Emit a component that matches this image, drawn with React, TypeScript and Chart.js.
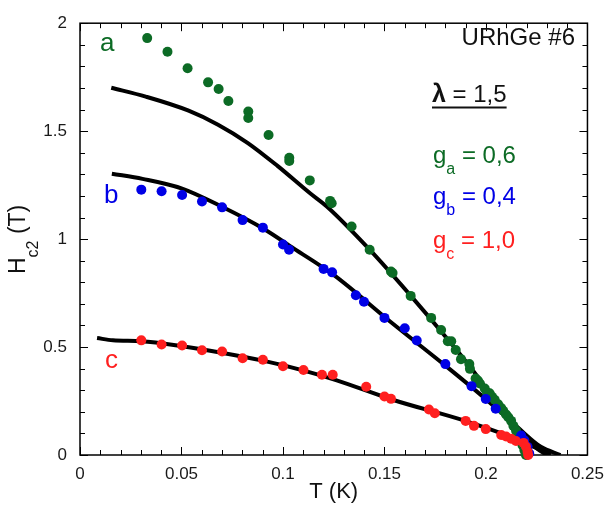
import React, { useEffect, useRef } from 'react';
import { Chart, registerables } from 'chart.js';

Chart.register(...registerables);

// ---------- data ----------
const aT = [0.0331, 0.0431, 0.053, 0.0631, 0.0683, 0.0731, 0.0829, 0.0829, 0.0929, 0.1031, 0.1031, 0.1132, 0.1232, 0.124, 0.1338, 0.1427, 0.1532, 0.154, 0.1629, 0.173, 0.1779, 0.1812, 0.1829, 0.1851, 0.1877, 0.1918, 0.1921, 0.1949, 0.196, 0.197, 0.1994, 0.2005, 0.2018, 0.203, 0.2043, 0.206, 0.2075, 0.2085, 0.2099, 0.211, 0.2124, 0.2135, 0.2148, 0.216, 0.2173, 0.218, 0.2189, 0.2195, 0.2197];
const aH = [1.931, 1.868, 1.791, 1.726, 1.695, 1.64, 1.591, 1.561, 1.482, 1.377, 1.362, 1.272, 1.177, 1.166, 1.058, 0.951, 0.85, 0.843, 0.737, 0.635, 0.579, 0.527, 0.527, 0.486, 0.444, 0.421, 0.399, 0.354, 0.345, 0.331, 0.308, 0.29, 0.286, 0.27, 0.256, 0.235, 0.218, 0.205, 0.188, 0.175, 0.158, 0.135, 0.113, 0.09, 0.068, 0.045, 0.023, 0.01, 0.0];

const bT = [0.0302, 0.0402, 0.0503, 0.0601, 0.07, 0.0801, 0.0901, 0.1, 0.103, 0.12, 0.1242, 0.1359, 0.1399, 0.15, 0.16, 0.1659, 0.18, 0.1929, 0.1999, 0.2048, 0.2173, 0.2189, 0.2205, 0.2213];
const bH = [1.229, 1.222, 1.204, 1.174, 1.147, 1.088, 1.053, 0.975, 0.951, 0.862, 0.846, 0.74, 0.71, 0.635, 0.587, 0.53, 0.421, 0.319, 0.259, 0.214, 0.09, 0.068, 0.038, 0.008];

const cT = [0.0302, 0.0402, 0.0503, 0.0601, 0.07, 0.0801, 0.0901, 0.1, 0.1101, 0.1192, 0.1245, 0.141, 0.15, 0.1532, 0.1719, 0.1748, 0.19, 0.1941, 0.1999, 0.2075, 0.2099, 0.2124, 0.2148, 0.2185, 0.2197, 0.2205, 0.2208];
const cH = [0.531, 0.512, 0.507, 0.485, 0.479, 0.448, 0.441, 0.411, 0.394, 0.372, 0.372, 0.316, 0.271, 0.26, 0.211, 0.193, 0.158, 0.135, 0.12, 0.093, 0.086, 0.075, 0.065, 0.056, 0.038, 0.015, 0.0];

const fitAT = [0.0154, 0.0324, 0.0535, 0.068, 0.0827, 0.0973, 0.1135, 0.1216, 0.1427, 0.163, 0.18, 0.193, 0.206, 0.219, 0.2286, 0.2318];
const fitAH = [1.701, 1.66, 1.595, 1.53, 1.445, 1.339, 1.211, 1.151, 0.951, 0.737, 0.549, 0.399, 0.233, 0.083, 0.008, 0.0];

const fitBT = [0.0157, 0.0308, 0.0503, 0.0697, 0.0908, 0.1054, 0.1248, 0.154, 0.18, 0.1994, 0.2156, 0.227, 0.2367];
const fitBH = [1.303, 1.279, 1.234, 1.151, 1.046, 0.956, 0.835, 0.609, 0.414, 0.263, 0.128, 0.038, 0.0];

const fitCT = [0.0084, 0.0162, 0.0302, 0.0503, 0.0697, 0.0901, 0.1103, 0.1265, 0.154, 0.1897, 0.2124, 0.2253, 0.2318];
const fitCH = [0.542, 0.531, 0.527, 0.504, 0.474, 0.437, 0.391, 0.346, 0.256, 0.158, 0.083, 0.03, 0.0];

const xTickValues = [0, 0.05, 0.1, 0.15, 0.2, 0.25];
const xTickLabels = ['0', '0.05', '0.1', '0.15', '0.2', '0.25'];
const yTickValues = [0, 0.5, 1, 1.5, 2];
const yTickLabels = ['0', '0.5', '1', '1.5', '2'];
const xMinorStep = 0.01;
const yMinorStep = 0.1;

const GREEN = '#0c6b25';
const BLUE = '#0000e6';
const RED = '#ff1f1f';
const FONT = '"Liberation Sans", Arial, Helvetica, sans-serif';

const toXY = (xs: number[], ys: number[]) => xs.map((v, i) => ({ x: v, y: ys[i] }));

function drawRuns(ctx: CanvasRenderingContext2D, x: number, y: number, parts: [string, string, number][]) {
  let cx = x;
  for (const [t, f, dy] of parts) {
    ctx.font = f;
    ctx.fillText(t, cx, y + dy);
    cx += ctx.measureText(t).width;
  }
  return cx;
}

const decorPlugin = {
  id: 'decor',
  beforeDatasetsDraw(chart: any) {
    const { ctx, chartArea: a, scales } = chart;
    const x = scales.x;
    const y = scales.y;
    ctx.save();
    ctx.strokeStyle = '#000';
    ctx.lineWidth = 1.5;
    ctx.strokeRect(a.left, a.top, a.right - a.left, a.bottom - a.top);
    ctx.lineWidth = 1;
    ctx.beginPath();
    const nx = Math.round((x.max - x.min) / xMinorStep);
    for (let i = 0; i <= nx; i++) {
      const v = x.min + i * xMinorStep;
      const px = Math.round(x.getPixelForValue(v)) + 0.5;
      const len = i % 5 === 0 ? 8 : 5;
      ctx.moveTo(px, a.bottom); ctx.lineTo(px, a.bottom - len);
      ctx.moveTo(px, a.top); ctx.lineTo(px, a.top + len);
    }
    const ny = Math.round((y.max - y.min) / yMinorStep);
    for (let i = 0; i <= ny; i++) {
      const v = y.min + i * yMinorStep;
      const py = Math.round(y.getPixelForValue(v)) + 0.5;
      const len = i % 5 === 0 ? 8 : 5;
      ctx.moveTo(a.left, py); ctx.lineTo(a.left + len, py);
      ctx.moveTo(a.right, py); ctx.lineTo(a.right - len, py);
    }
    ctx.stroke();
    ctx.restore();
  },
  afterDraw(chart: any) {
    const { ctx, chartArea: a } = chart;
    ctx.save();
    ctx.textBaseline = 'alphabetic';
    ctx.textAlign = 'left';

    // curve labels
    ctx.fillStyle = GREEN;
    ctx.font = `26px ${FONT}`;
    ctx.fillText('a', 100, 51);
    ctx.fillStyle = BLUE;
    ctx.fillText('b', 104, 203);
    ctx.fillStyle = RED;
    ctx.fillText('c', 105, 368);

    // sample name
    ctx.fillStyle = '#111';
    ctx.font = `24px ${FONT}`;
    ctx.textAlign = 'right';
    ctx.fillText('URhGe #6', 575, 45);
    ctx.textAlign = 'left';

    // lambda
    const end = drawRuns(ctx, 432, 102, [
      ['λ', `bold 25px ${FONT}`, 0],
      [' = 1,5', `24px ${FONT}`, 0],
    ]);
    ctx.strokeStyle = '#111';
    ctx.lineWidth = 2;
    ctx.beginPath();
    ctx.moveTo(432, 107.5);
    ctx.lineTo(end, 107.5);
    ctx.stroke();

    // g values
    const gLines: [string, string, string, number][] = [
      ['a', ' = 0,6', GREEN, 163],
      ['b', ' = 0,4', BLUE, 204],
      ['c', ' = 1,0', RED, 248],
    ];
    for (const [sub, rest, col, base] of gLines) {
      ctx.fillStyle = col;
      drawRuns(ctx, 433, base, [
        ['g', `24px ${FONT}`, 0],
        [sub, `16px ${FONT}`, 11],
        [rest, `24px ${FONT}`, 0],
      ]);
    }

    // x title
    ctx.fillStyle = '#111';
    ctx.font = `22px ${FONT}`;
    ctx.textAlign = 'center';
    ctx.fillText('T (K)', (a.left + a.right) / 2, 498);

    // y title
    ctx.textAlign = 'left';
    ctx.translate(25, 274);
    ctx.rotate(-Math.PI / 2);
    drawRuns(ctx, 0, 0, [
      ['H', `23px ${FONT}`, 0],
      ['c2', `16px ${FONT}`, 13],
      [' (T)', `23px ${FONT}`, 0],
    ]);
    ctx.restore();
  },
};

export default function App() {
  const ref = useRef<HTMLCanvasElement | null>(null);

  useEffect(() => {
    if (!ref.current) return;
    const pointDs = (label: string, xs: number[], ys: number[], color: string, order: number) => ({
      label,
      data: toXY(xs, ys),
      backgroundColor: color,
      borderColor: color,
      borderWidth: 0,
      pointRadius: 5,
      showLine: false,
      clip: false as any,
      order,
    });
    const lineDs = (label: string, xs: number[], ys: number[]) => ({
      label,
      data: toXY(xs, ys),
      borderColor: '#000',
      backgroundColor: '#000',
      borderWidth: 4,
      pointRadius: 0,
      showLine: true,
      cubicInterpolationMode: 'monotone' as const,
      order: 5,
    });
    const chart = new Chart(ref.current, {
      type: 'scatter',
      data: {
        datasets: [
          lineDs('fit a', fitAT, fitAH),
          lineDs('fit b', fitBT, fitBH),
          lineDs('fit c', fitCT, fitCH),
          pointDs('a', aT, aH, GREEN, 3),
          pointDs('b', bT, bH, BLUE, 2),
          pointDs('c', cT, cH, RED, 1),
        ] as any,
      },
      options: {
        animation: false,
        responsive: false,
        devicePixelRatio: 1,
        events: [],
        layout: { padding: { left: 0, top: 12, right: 19, bottom: 0 } },
        plugins: { legend: { display: false }, tooltip: { enabled: false } },
        scales: {
          x: {
            type: 'linear',
            min: 0,
            max: 0.25,
            grid: { display: false, drawTicks: false },
            border: { display: false },
            ticks: {
              padding: 9,
              autoSkip: false,
              maxRotation: 0,
              color: '#1a1a1a',
              font: { size: 17, family: FONT },
              callback: (_v: any, i: number) => xTickLabels[i],
            },
            afterBuildTicks: (s: any) => {
              s.ticks = xTickValues.map((v) => ({ value: v }));
            },
            afterFit: (s: any) => {
              s.height = 60;
            },
          },
          y: {
            type: 'linear',
            min: 0,
            max: 2,
            grid: { display: false, drawTicks: false },
            border: { display: false },
            ticks: {
              padding: 13,
              autoSkip: false,
              color: '#1a1a1a',
              font: { size: 17, family: FONT },
              callback: (_v: any, i: number) => yTickLabels[i],
            },
            afterBuildTicks: (s: any) => {
              s.ticks = yTickValues.map((v) => ({ value: v }));
            },
            afterFit: (s: any) => {
              s.width = 80;
            },
          },
        },
      },
      plugins: [decorPlugin],
    });
    return () => chart.destroy();
  }, []);

  return (
    <div style={{ position: 'absolute', left: 0, top: 0, width: 613, height: 515, background: '#fff' }}>
      <canvas ref={ref} width={613} height={515} style={{ display: 'block' }} />
    </div>
  );
}
